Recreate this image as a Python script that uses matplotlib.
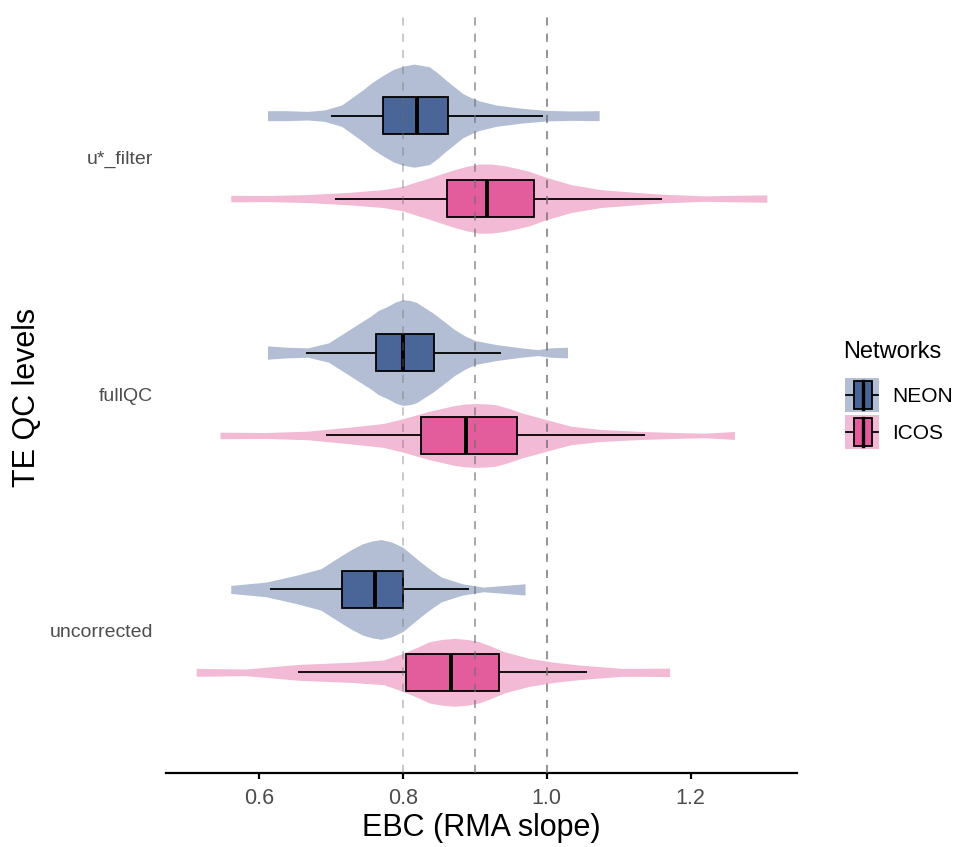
import matplotlib
matplotlib.use("Agg")
import matplotlib.pyplot as plt
import numpy as np
from matplotlib.patches import Rectangle
from matplotlib.lines import Line2D
from matplotlib.legend_handler import HandlerBase

plt.rcParams['font.family'] = ['Liberation Sans', 'DejaVu Sans']

# ---------------- data ----------------
categories = ["uncorrected", "fullQC", "u*_filter"]
networks = ["NEON", "ICOS"]

# violin density profiles (value, relative density)
NEON_ustar_x = [0.612, 0.639, 0.668, 0.691, 0.715, 0.744, 0.758, 0.773, 0.787, 0.800, 0.816, 0.837, 0.848, 0.860, 0.872, 0.883, 0.895, 0.906, 0.930, 0.965, 0.999, 1.034, 1.073]
NEON_ustar_d = [0.094, 0.094, 0.081, 0.107, 0.20, 0.48, 0.63, 0.76, 0.87, 0.93, 0.97, 0.92, 0.81, 0.67, 0.54, 0.42, 0.34, 0.28, 0.20, 0.14, 0.10, 0.088, 0.094]
ICOS_ustar_x = [0.561, 0.610, 0.668, 0.726, 0.773, 0.800, 0.818, 0.837, 0.855, 0.872, 0.890, 0.906, 0.923, 0.941, 0.958, 0.976, 0.999, 1.034, 1.075, 1.133, 1.162, 1.220, 1.267, 1.306]
ICOS_ustar_d = [0.062, 0.056, 0.075, 0.118, 0.169, 0.231, 0.31, 0.388, 0.47, 0.544, 0.61, 0.651, 0.65, 0.619, 0.57, 0.512, 0.40, 0.263, 0.169, 0.107, 0.081, 0.051, 0.062, 0.069]

NEON_full_x = [0.612, 0.639, 0.668, 0.697, 0.726, 0.755, 0.766, 0.779, 0.790, 0.800, 0.810, 0.819, 0.842, 0.857, 0.872, 0.887, 0.901, 0.930, 0.965, 0.988, 1.005, 1.029]
NEON_full_d = [0.126, 0.10, 0.088, 0.182, 0.432, 0.681, 0.79, 0.869, 0.95, 0.994, 0.98, 0.944, 0.745, 0.59, 0.432, 0.31, 0.225, 0.15, 0.088, 0.056, 0.088, 0.10]
ICOS_full_x = [0.546, 0.610, 0.668, 0.726, 0.773, 0.800, 0.837, 0.872, 0.886, 0.901, 0.915, 0.930, 0.947, 0.965, 0.999, 1.034, 1.075, 1.133, 1.191, 1.220, 1.261]
ICOS_full_d = [0.062, 0.056, 0.081, 0.156, 0.225, 0.313, 0.456, 0.563, 0.59, 0.60, 0.595, 0.576, 0.51, 0.426, 0.30, 0.174, 0.113, 0.075, 0.051, 0.043, 0.075]

NEON_unc_x = [0.561, 0.610, 0.651, 0.686, 0.715, 0.730, 0.744, 0.757, 0.770, 0.785, 0.800, 0.812, 0.825, 0.840, 0.854, 0.883, 0.912, 0.941, 0.970]
NEON_unc_d = [0.075, 0.138, 0.263, 0.388, 0.638, 0.76, 0.857, 0.91, 0.938, 0.89, 0.794, 0.66, 0.513, 0.36, 0.231, 0.106, 0.044, 0.075, 0.106]
ICOS_unc_x = [0.513, 0.581, 0.656, 0.726, 0.773, 0.800, 0.820, 0.837, 0.855, 0.872, 0.889, 0.906, 0.923, 0.941, 0.976, 1.011, 1.046, 1.104, 1.133, 1.171]
ICOS_unc_d = [0.075, 0.062, 0.15, 0.188, 0.231, 0.356, 0.47, 0.576, 0.62, 0.638, 0.62, 0.576, 0.49, 0.388, 0.263, 0.188, 0.137, 0.075, 0.075, 0.081]

# box statistics: whisker low, Q1, median, Q3, whisker high
NEON_ustar_box = [0.700, 0.773, 0.820, 0.863, 0.995]
ICOS_ustar_box = [0.706, 0.861, 0.917, 0.983, 1.161]
NEON_full_box = [0.666, 0.763, 0.800, 0.844, 0.936]
ICOS_full_box = [0.693, 0.826, 0.888, 0.959, 1.137]
NEON_unc_box = [0.616, 0.715, 0.761, 0.801, 0.892]
ICOS_unc_box = [0.654, 0.804, 0.867, 0.934, 1.056]

ref_lines = [0.8, 0.9, 1.0]
xticks = [0.6, 0.8, 1.0, 1.2]

# ---------------- styling ----------------
colors = {"NEON": "#4A6699", "ICOS": "#E35C9B"}
offsets = {"NEON": 0.175, "ICOS": -0.175}
max_half = 0.2245      # half-width (category units) for density 1
box_half = 0.078
ref_alpha = [0.4, 0.65, 0.8]

series = {
    ("u*_filter", "NEON"): (NEON_ustar_x, NEON_ustar_d, NEON_ustar_box),
    ("u*_filter", "ICOS"): (ICOS_ustar_x, ICOS_ustar_d, ICOS_ustar_box),
    ("fullQC", "NEON"): (NEON_full_x, NEON_full_d, NEON_full_box),
    ("fullQC", "ICOS"): (ICOS_full_x, ICOS_full_d, ICOS_full_box),
    ("uncorrected", "NEON"): (NEON_unc_x, NEON_unc_d, NEON_unc_box),
    ("uncorrected", "ICOS"): (ICOS_unc_x, ICOS_unc_d, ICOS_unc_box),
}

W, H = 954, 847
fig = plt.figure(figsize=(W / 100, H / 100), dpi=100)
left, right, bottom, top = 166, 797, 773, 15
ax = fig.add_axes([left / W, 1 - bottom / H, (right - left) / W, (bottom - top) / H])

for (cat, net), (vx, vd, bs) in series.items():
    yc = categories.index(cat) + 1 + offsets[net]
    vx = np.asarray(vx)
    vd = np.asarray(vd)
    col = colors[net]
    ax.fill_between(vx, yc - vd * max_half, yc + vd * max_half, color=col, alpha=0.42,
                    linewidth=0, zorder=1)
    wlo, q1, med, q3, whi = bs
    ax.plot([wlo, q1], [yc, yc], color="black", lw=1.3, zorder=2, solid_capstyle="butt")
    ax.plot([q3, whi], [yc, yc], color="black", lw=1.3, zorder=2, solid_capstyle="butt")
    ax.add_patch(Rectangle((q1, yc - box_half), q3 - q1, 2 * box_half, facecolor=col,
                           edgecolor="black", lw=1.3, zorder=3))
    ax.plot([med, med], [yc - box_half, yc + box_half], color="black", lw=2.8, zorder=4,
            solid_capstyle="butt")

for xv, a in zip(ref_lines, ref_alpha):
    ax.axvline(xv, color="#6e6e6e", alpha=a, lw=1.3, linestyle=(0, (4.5, 4.5)), zorder=5)

ax.set_xlim(0.471, 1.348)
ax.set_ylim(0.4, 3.6)
ax.set_yticks([1, 2, 3])
ax.set_yticklabels(categories)
ax.set_xticks(xticks)
ax.set_xticklabels([f"{t:.1f}" for t in xticks])

for s in ["top", "right", "left"]:
    ax.spines[s].set_visible(False)
ax.spines["bottom"].set_linewidth(1.6)
ax.tick_params(axis="y", length=0, pad=9.5, labelsize=14, labelcolor="#4d4d4d")
ax.tick_params(axis="x", length=4.5, width=1.6, pad=6, labelsize=15.5, labelcolor="#4d4d4d")

ax.set_xlabel("EBC (RMA slope)", fontsize=22)
ax.xaxis.label.set_va("center")
ax.xaxis.set_label_coords(0.5, (bottom - 828) / (bottom - top))
ax.set_ylabel("TE QC levels", fontsize=22)
ax.yaxis.label.set_va("center")
ax.yaxis.set_label_coords((27 - left) / (right - left), (bottom - 397) / (bottom - top))


# ---------------- legend ----------------
class KeyHandle:
    def __init__(self, face):
        self.face = face


class BoxKeyHandler(HandlerBase):
    def create_artists(self, legend, h, xd, yd, w, hg, fs, trans):
        x0, y0 = -xd, -yd
        arts = [Rectangle((x0, y0), w, hg, facecolor=h.face, alpha=0.42, edgecolor="none",
                          transform=trans)]
        bx0, bx1 = x0 + 0.26 * w, x0 + 0.80 * w
        by0, by1 = y0 + 0.09 * hg, y0 + 0.92 * hg
        ym = y0 + 0.5 * hg
        arts.append(Line2D([x0 + 0.02 * w, bx0], [ym, ym], color="black", lw=1.3, transform=trans))
        arts.append(Line2D([bx1, x0 + 0.98 * w], [ym, ym], color="black", lw=1.3, transform=trans))
        arts.append(Rectangle((bx0, by0), bx1 - bx0, by1 - by0, facecolor=h.face,
                              edgecolor="black", lw=1.3, transform=trans))
        xm = (bx0 + bx1) / 2
        arts.append(Line2D([xm, xm], [by0, by1], color="black", lw=2.4, transform=trans))
        return arts


fig.text(843 / W, 1 - 352 / H, "Networks", fontsize=17, ha="left", va="center")
handles = [KeyHandle(colors[n]) for n in networks]
leg = fig.legend(handles, networks, handler_map={KeyHandle: BoxKeyHandler()},
                 loc="upper left", bbox_to_anchor=(845 / W, 1 - 378 / H),
                 bbox_transform=fig.transFigure, frameon=False,
                 fontsize=15, handlelength=1.63, handleheight=2.135,
                 labelspacing=0.16, handletextpad=0.65, borderpad=0, borderaxespad=0)

fig.savefig("out.png", dpi=100)
